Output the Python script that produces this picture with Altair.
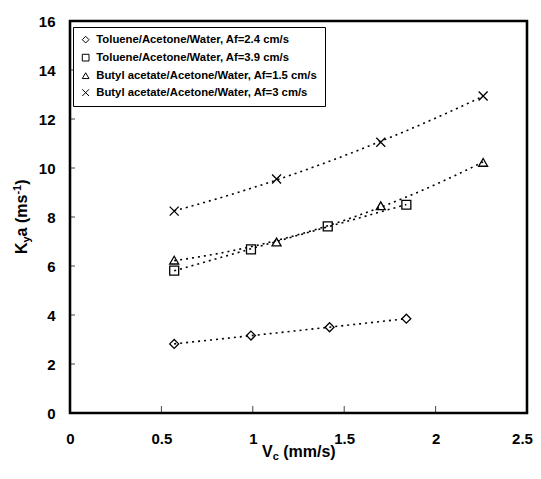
import altair as alt
import pandas as pd

# ---- data ----
series_names = [
    "Toluene/Acetone/Water, Af=2.4 cm/s",
    "Toluene/Acetone/Water, Af=3.9 cm/s",
    "Butyl acetate/Acetone/Water, Af=1.5 cm/s",
    "Butyl acetate/Acetone/Water, Af=3 cm/s",
]
tol24_x = [0.57, 0.99, 1.42, 1.84]
tol24_y = [2.82, 3.16, 3.50, 3.85]
tol39_x = [0.57, 0.99, 1.41, 1.84]
tol39_y = [5.81, 6.68, 7.62, 8.50]
but15_x = [0.57, 1.13, 1.70, 2.26]
but15_y = [6.24, 6.98, 8.46, 10.23]
but3_x = [0.57, 1.13, 1.70, 2.26]
but3_y = [8.24, 9.55, 11.05, 12.94]

x_ticks = [0.5, 1.0, 1.5, 2.0]
y_ticks = [2, 4, 6, 8, 10, 12, 14]

rows = []
for name, xs, ys in zip(series_names,
                        [tol24_x, tol39_x, but15_x, but3_x],
                        [tol24_y, tol39_y, but15_y, but3_y]):
    for xv, yv in zip(xs, ys):
        rows.append({"series": name, "x": xv, "y": yv})
df = pd.DataFrame(rows)

FONT = "Liberation Sans"
W, H = 457, 392

x_scale = alt.Scale(domain=[0, 2.5], nice=False, zero=False)
y_scale = alt.Scale(domain=[0, 16], nice=False, zero=False)
x_axis = alt.Axis(title=None, values=[0, 0.5, 1, 1.5, 2, 2.5], labelExpr="datum.value",
                  grid=False, domain=False, ticks=False, labelPadding=18,
                  labelFont=FONT, labelFontSize=15, labelFontWeight="bold",
                  labelColor="black", labelFlush=False, labelOverlap=False,
                  labelOffset={"condition": {"test": "datum.value == 2.5", "value": -5},
                               "value": 0})
y_axis = alt.Axis(title=None, values=list(range(0, 17, 2)), grid=False, domain=False,
                  ticks=False, labelPadding=15, labelFont=FONT, labelFontSize=15,
                  labelFontWeight="bold", labelColor="black", labelOverlap=False)

cross_path = "M-1,-1L1,1M1,-1L-1,1"
shape_scale = alt.Scale(domain=series_names,
                        range=["diamond", "square", "triangle-up", cross_path])

base = alt.Chart(df)

trend = base.transform_regression(
    "x", "y", groupby=["series"], method="poly", order=2
).mark_line(color="black", strokeWidth=1.6, strokeDash=[2, 4]).encode(
    x=alt.X("x:Q", scale=x_scale, axis=x_axis),
    y=alt.Y("y:Q", scale=y_scale, axis=y_axis),
    detail="series:N",
)

points = base.mark_point(filled=False, color="black", strokeWidth=1.3, size=80, opacity=1).encode(
    x=alt.X("x:Q", scale=x_scale, axis=x_axis),
    y=alt.Y("y:Q", scale=y_scale, axis=y_axis),
    shape=alt.Shape("series:N", scale=shape_scale, sort=series_names,
                    legend=alt.Legend(
                        title=None, orient="none", legendX=3, legendY=6,
                        strokeColor="black", fillColor="white", padding=7,
                        symbolSize=45, symbolStrokeColor="black", symbolStrokeWidth=1,
                        symbolFillColor="transparent",
                        labelFont=FONT, labelFontSize=11.3, labelFontWeight="bold",
                        labelColor="black", labelOffset=5, rowPadding=5,
                        labelLimit=400)),
)

xt_df = pd.DataFrame({"v": x_ticks})
yt_df = pd.DataFrame({"v": y_ticks})
xticks = alt.Chart(xt_df).mark_rule(color="#444", strokeWidth=1).encode(
    x=alt.X("v:Q", scale=x_scale, axis=x_axis),
    y=alt.value(H), y2=alt.value(H - 7),
)
yticks = alt.Chart(yt_df).mark_rule(color="#444", strokeWidth=1).encode(
    y=alt.Y("v:Q", scale=y_scale, axis=y_axis),
    x=alt.value(0), x2=alt.value(5),
)

dummy = pd.DataFrame({"a": [0]})

frame = alt.Chart(dummy).mark_rect(filled=False, stroke="black", strokeWidth=2.4).encode(
    x=alt.value(0), x2=alt.value(W), y=alt.value(0), y2=alt.value(H),
)


def txt(s, x, y, size, angle=0):
    return alt.Chart(dummy).mark_text(
        text=s, font=FONT, fontSize=size, fontWeight="bold", color="black",
        align="left", baseline="alphabetic", angle=angle,
    ).encode(x=alt.value(x), y=alt.value(y))


# x-axis title: V_c (mm/s)
xt_base = 436
xt_start = 192
title_layers = [
    txt("V", xt_start, xt_base, 16),
    txt("c", xt_start + 10.7, xt_base + 3, 11),
    txt("(mm/s)", xt_start + 21.2, xt_base, 16),
]
# y-axis title: K_y a (ms^-1), rotated
yb = -43.5
y0 = 233
title_layers += [
    txt("K", yb, y0, 16, 270),
    txt("y", yb + 3, y0 - 11.55, 11, 270),
    txt("a", yb, y0 - 17.6, 16, 270),
    txt("(ms", yb, y0 - 17.6 - 13.3, 16, 270),
    txt("-1", yb - 6, y0 - 59.4, 11, 270),
    txt(")", yb, y0 - 69.2, 16, 270),
]

chart = alt.layer(trend, points, xticks, yticks, frame, *title_layers).properties(
    width=W, height=H,
    autosize=alt.AutoSizeParams(type="none"),
    padding={"left": 62, "top": 13, "right": 6, "bottom": 50},
    background="white",
).configure_view(stroke="black", strokeWidth=2.2)

chart.save("out.html", embed_options={"renderer": "svg", "actions": False})
